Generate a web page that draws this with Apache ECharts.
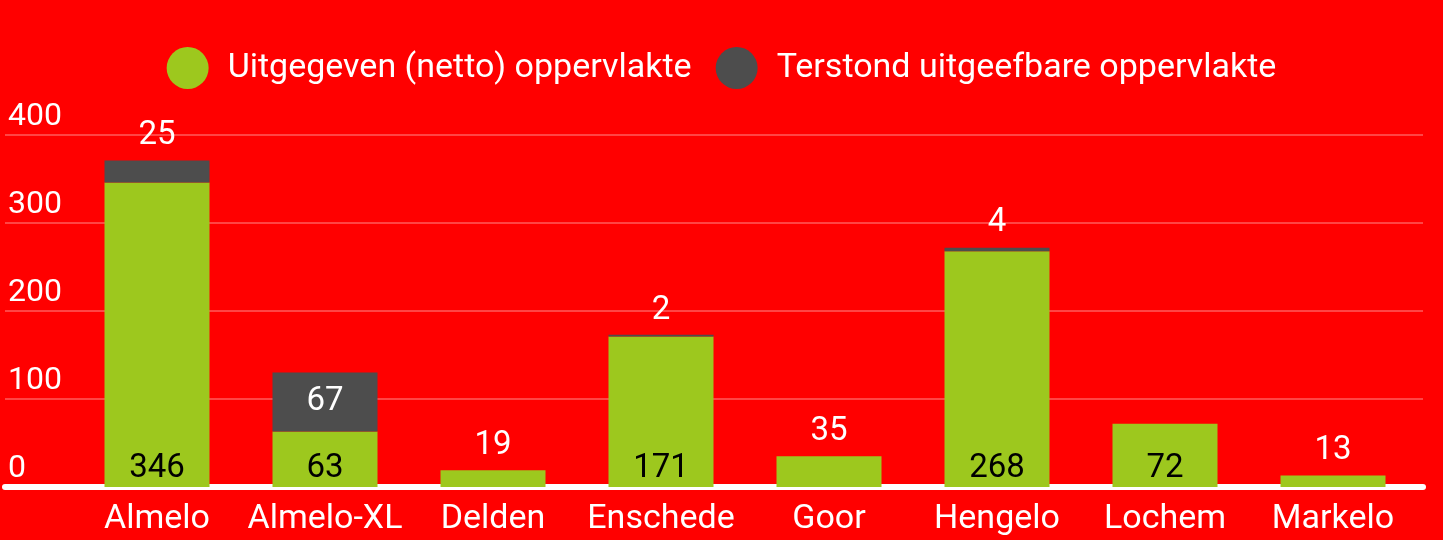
<!DOCTYPE html>
<html>
<head>
<meta charset="utf-8">
<script src="https://cdn.jsdelivr.net/npm/echarts@6/dist/echarts.min.js"></script>
<style>
  html, body { margin: 0; padding: 0; background: #ff0000; }
  #chart { width: 1443px; height: 540px; }
</style>
</head>
<body>
<div id="chart"></div>
<script>
// data
var categories = ['Almelo', 'Almelo-XL', 'Delden', 'Enschede', 'Goor', 'Hengelo', 'Lochem', 'Markelo'];
var netto = [346, 63, 19, 171, 35, 268, 72, 13];
var terstond = [25, 67, 0, 2, 0, 4, 0, 0];
var yTicks = [0, 100, 200, 300, 400];

var FONT = 'Roboto';
var GREEN = '#9dc81e';
var GREY = '#4d4d4d';

// labels: small green bars get the number on top, in white
function nettoData() {
		var out = [];
		for (var i = 0; i < netto.length; i++) {
				var small = netto[i] < 50;
				out.push({
						value : netto[i],
						label : small
								? { position : 'top', color : '#fff', distance : 8 }
								: { position : 'insideBottom', color : '#000', distance : 2 }
				});
		}
		return out;
}

function terstondData() {
		var out = [];
		for (var i = 0; i < terstond.length; i++) {
				var v = terstond[i];
				out.push({
						value : v,
						label : {
								show     : v > 0,
								position : v > 30 ? 'inside' : 'top',
								color    : '#fff',
								distance : 8
						}
				});
		}
		return out;
}

var chart = echarts.init(document.getElementById('chart'));

var option = {
		backgroundColor : '#ff0000',
		animation : false,
		textStyle : { fontFamily : FONT },
		legend : {
				top       : 42,
				left      : 'center',
				icon      : 'circle',
				itemWidth : 42,
				itemHeight: 42,
				itemGap   : 24,
				textStyle : { color : '#fff', fontSize : 34, fontFamily : FONT, padding : [0, 0, 0, 14] },
				data      : ['Uitgegeven (netto) oppervlakte', 'Terstond uitgeefbare oppervlakte']
		},
		grid : [
				// grid 0 only carries the gridlines, y labels and the white base line
				{ left : 5, right : 20, top : 135, bottom : 53 },
				{ left : 73, right : 26, top : 135, bottom : 53 }
		],
		xAxis : [
				{
						gridIndex : 0, type : 'value', min : 0, max : 1,
						axisLine  : { show : true, lineStyle : { color : '#fff', width : 6 } },
						axisTick  : { show : false },
						axisLabel : { show : false },
						splitLine : { show : false }
				},
				{
						gridIndex : 1, type : 'category', data : categories,
						axisLine  : { show : false },
						axisTick  : { show : false },
						axisLabel : { color : '#fff', fontSize : 34, fontFamily : FONT, margin : 15, interval : 0 }
				}
		],
		yAxis : [
				{
						gridIndex : 0, type : 'value', min : 0, max : 400, interval : 100,
						axisLine  : { show : false },
						axisTick  : { show : false },
						axisLabel : {
								inside : true, margin : 3, color : '#fff', fontSize : 32, fontFamily : FONT,
								verticalAlign : 'bottom', padding : [0, 0, 2, 0],
								formatter : function(v) { return yTicks.indexOf(v) >= 0 ? String(v) : ''; }
						},
						splitLine : { lineStyle : { color : '#ff4545', width : 2 } }
				},
				{
						gridIndex : 1, type : 'value', min : 0, max : 400, interval : 100,
						axisLine  : { show : false },
						axisTick  : { show : false },
						axisLabel : { show : false },
						splitLine : { show : false }
				}
		],
		series : [
				{
						name : 'Uitgegeven (netto) oppervlakte',
						type : 'bar', stack : 'tot', xAxisIndex : 1, yAxisIndex : 1,
						barCategoryGap : '37.5%',
						itemStyle : { color : GREEN },
						label : { show : true, fontSize : 33, fontFamily : FONT },
						data : nettoData()
				},
				{
						name : 'Terstond uitgeefbare oppervlakte',
						type : 'bar', stack : 'tot', xAxisIndex : 1, yAxisIndex : 1,
						itemStyle : { color : GREY },
						label : { show : true, fontSize : 33, fontFamily : FONT },
						data : terstondData()
				}
		]
};
chart.setOption(option);
</script>
</body>
</html>
